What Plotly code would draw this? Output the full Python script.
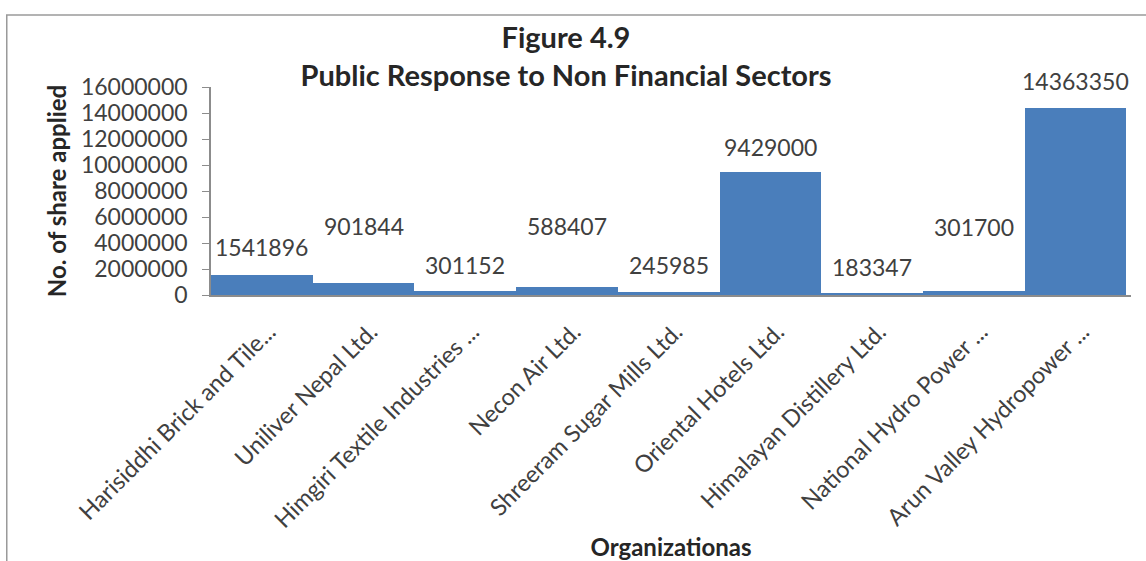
import plotly.graph_objects as go

organizations = [
    "Harisiddhi Brick and Tile...",
    "Uniliver Nepal Ltd.",
    "Himgiri Textile Industries ...",
    "Necon Air Ltd.",
    "Shreeram Sugar Mills Ltd.",
    "Oriental Hotels Ltd.",
    "Himalayan Distillery Ltd.",
    "National Hydro Power ...",
    "Arun Valley Hydropower ...",
]
shares_applied = [1541896, 901844, 301152, 588407, 245985, 9429000, 183347, 301700, 14363350]
y_ticks = [0, 2000000, 4000000, 6000000, 8000000, 10000000, 12000000, 14000000, 16000000]

# pixel offsets of the data labels above the bar tops (label staggering)
label_shift = [28, 57, 26, 61, 27, 25, 26, 64, 27]

FONT = "Lato"
BAR = "#4a7ebb"
TXT = "#404040"
AX = "#8c8c8c"

fig = go.Figure(
    go.Bar(
        x=organizations,
        y=shares_applied,
        marker=dict(color=BAR, line=dict(width=0)),
        hoverinfo="x+y",
    )
)

for org, val, sh in zip(organizations, shares_applied, label_shift):
    fig.add_annotation(
        x=org, y=val, xref="x", yref="y",
        text=f"{val}", showarrow=False,
        yanchor="middle", yshift=sh,
        font=dict(family=FONT, size=23, color=TXT),
    )

fig.add_shape(
    type="rect", xref="paper", yref="paper",
    x0=-0.222, x1=1.2, y0=-2.0, y1=1.346,
    line=dict(color="#9a9a9a", width=1.5), fillcolor="rgba(0,0,0,0)",
    layer="below",
)

fig.update_layout(
    width=1146, height=561,
    margin=dict(l=211, r=15, t=87, b=266, autoexpand=False),
    paper_bgcolor="white", plot_bgcolor="white",
    bargap=0,
    showlegend=False,
    font=dict(family=FONT, color=TXT),
    title=dict(
        text="<b>Figure 4.9</b><br><b>Public Response to Non Financial Sectors</b>",
        x=566 / 1146, xanchor="center",
        y=1 - 48 / 561, yanchor="top",
        font=dict(family=FONT, size=29, color="#262626"),
    ),
    xaxis=dict(
        type="category",
        tickangle=-45,
        tickfont=dict(family=FONT, size=23.5, color=TXT),
        ticklabelstandoff=12,
        ticklabelshift=7,
        showline=True, linecolor=AX, linewidth=1.5,
        ticks="", showgrid=False, automargin=False,
        title=dict(text="<b>Organizationas</b>", standoff=12,
                   font=dict(family=FONT, size=24, color="#262626")),
    ),
    yaxis=dict(
        range=[0, 16000000],
        tickvals=y_ticks,
        ticktext=[str(v) for v in y_ticks],
        tickfont=dict(family=FONT, size=23, color=TXT),
        showline=True, linecolor=AX, linewidth=1.5,
        ticks="outside", ticklen=7, tickcolor=AX,
        ticklabelstandoff=10,
        showgrid=False, zeroline=False, automargin=False,
        title=dict(text="<b>No. of share applied</b>", standoff=8,
                   font=dict(family=FONT, size=24, color="#262626")),
    ),
)

fig.write_html("out.html", config={"displayModeBar": False},
               post_script="document.body.style.margin='0px';")
